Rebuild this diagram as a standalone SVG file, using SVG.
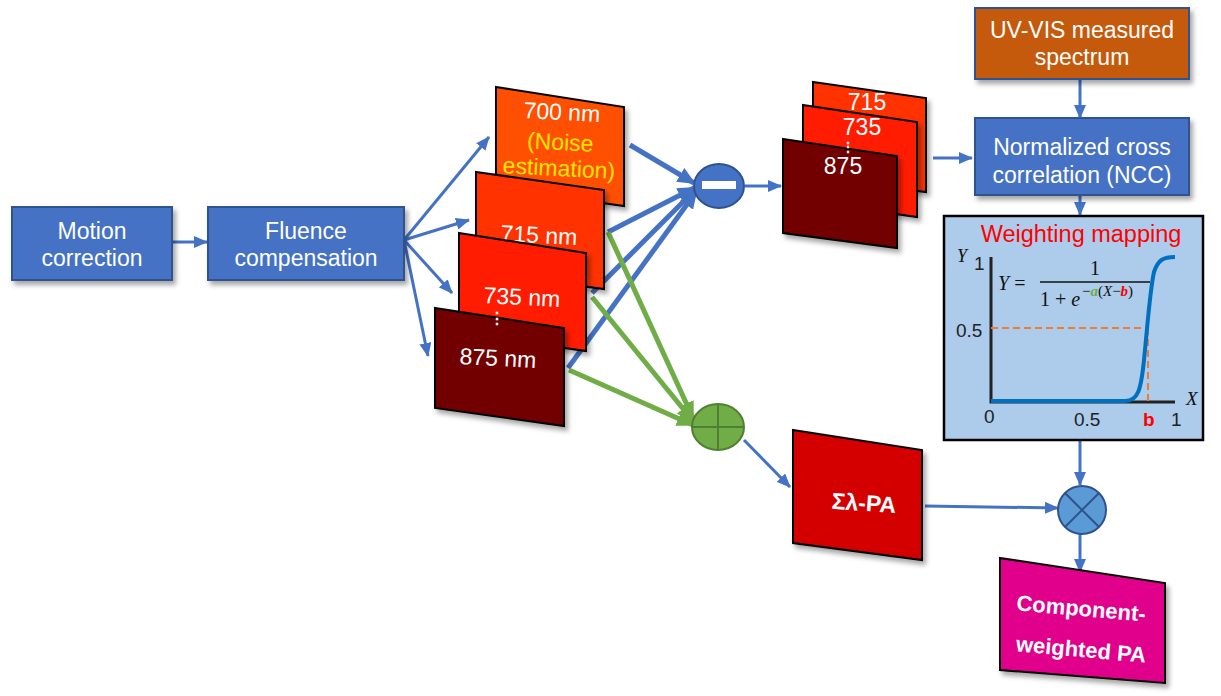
<svg xmlns="http://www.w3.org/2000/svg" width="1221" height="696" viewBox="0 0 1221 696">
<defs>
<style>
.box{fill:#4472C4;stroke:#2F528F;stroke-width:2;}
.bt{font-family:"Liberation Sans",Arial,sans-serif;font-size:23px;fill:#fff;text-anchor:middle;}
.fr{stroke:#000;stroke-width:2;}
.ft{font-family:"Liberation Sans",Arial,sans-serif;font-size:23px;fill:#fff;text-anchor:middle;}
.fb{font-family:"Liberation Sans",Arial,sans-serif;font-weight:bold;fill:#fff;text-anchor:middle;}
.c{fill:none;stroke:#4472C4;stroke-width:3;}
.ct{fill:none;stroke:#4472C4;stroke-width:5;}
.cg{fill:none;stroke:#70AD47;stroke-width:5;}
.ax{font-family:"Liberation Sans",Arial,sans-serif;font-size:19px;fill:#222;}
.it{font-family:"Liberation Serif","Times New Roman",serif;font-style:italic;fill:#111;}
</style>
<filter id="sh" x="-10%" y="-10%" width="130%" height="130%">
<feDropShadow dx="3" dy="4" stdDeviation="2.5" flood-color="#000" flood-opacity="0.35"/>
</filter>
<marker id="ab" markerWidth="14" markerHeight="12" refX="13" refY="6" orient="auto" markerUnits="userSpaceOnUse"><path d="M0,0 L14,6 L0,12 z" fill="#4472C4"/></marker>
<marker id="abT" markerWidth="18" markerHeight="16" refX="16" refY="8" orient="auto" markerUnits="userSpaceOnUse"><path d="M0,0 L18,8 L0,16 z" fill="#4472C4"/></marker>
<marker id="agT" markerWidth="18" markerHeight="16" refX="16" refY="8" orient="auto" markerUnits="userSpaceOnUse"><path d="M0,0 L18,8 L0,16 z" fill="#70AD47"/></marker>
</defs>
<rect width="1221" height="696" fill="#fff"/>

<g id="connectors">
<path class="c" d="M172,242 L207,242" marker-end="url(#ab)"/>
<path class="c" d="M404,240 L489,137" marker-end="url(#ab)"/>
<path class="c" d="M404,240 L469,220" marker-end="url(#ab)"/>
<path class="c" d="M404,240 L452,293" marker-end="url(#ab)"/>
<path class="c" d="M404,240 L428,356" marker-end="url(#ab)"/>
<path class="ct" d="M630,145 L694,183" marker-end="url(#abT)"/>
<path class="ct" d="M608,232 L694,188" marker-end="url(#abT)"/>
<path class="ct" d="M592,293 L695,190" marker-end="url(#abT)"/>
<path class="ct" d="M568,368 L696,192" marker-end="url(#abT)"/>
<path class="cg" d="M608,232 L693,418" marker-end="url(#agT)"/>
<path class="cg" d="M592,297 L693,421" marker-end="url(#agT)"/>
<path class="cg" d="M569,370 L693,425" marker-end="url(#agT)"/>
<path class="c" d="M745,186 L781,186" marker-end="url(#ab)"/>
<path class="c" d="M933,158 L972,158" marker-end="url(#ab)"/>
<path class="c" d="M1080,79 L1080,118" marker-end="url(#ab)"/>
<path class="c" d="M1080,195 L1080,215" marker-end="url(#ab)"/>
<path class="c" d="M1080,440 L1080,485" marker-end="url(#ab)"/>
<path class="c" d="M744,440 L790,487" marker-end="url(#ab)"/>
<path class="c" d="M925,506 L1058,508" marker-end="url(#ab)"/>
<path class="c" d="M1080,534 L1080,572" marker-end="url(#ab)"/>
</g>

<g id="motion">
<rect class="box" x="12" y="207" width="160" height="73" filter="url(#sh)"/>
<text class="bt" x="92" y="239">Motion</text>
<text class="bt" x="92" y="266">correction</text>
</g>
<g id="fluence">
<rect class="box" x="208" y="207" width="196" height="73" filter="url(#sh)"/>
<text class="bt" x="306" y="239">Fluence</text>
<text class="bt" x="306" y="266">compensation</text>
</g>

<g id="f700">
<polygon class="fr" points="496,87 624,107 624,206 496,188" fill="#FF5000" filter="url(#sh)"/>
<g transform="rotate(3 560 148)">
<text class="ft" x="560" y="120">700 nm</text>
<text class="ft" x="560" y="150" style="fill:#FFE600">(Noise</text>
<text class="ft" x="560" y="176" style="fill:#FFE600">estimation)</text>
</g>
</g>
<g id="f715">
<polygon class="fr" points="476,172 604,190 604,289 476,272" fill="#FF3300" filter="url(#sh)"/>
<text class="ft" x="539" y="243" transform="rotate(3 538 236)">715 nm</text>
</g>
<g id="f735">
<polygon class="fr" points="459,233 586,253 586,351 459,333" fill="#FF1A00" filter="url(#sh)"/>
<text class="ft" x="522" y="305" transform="rotate(3 522 298)">735 nm</text>
</g>
<g id="f875">
<polygon class="fr" points="435,308 564,328 564,426 435,408" fill="#730000" filter="url(#sh)"/>
<text class="ft" x="497" y="324" style="font-size:16px;font-weight:bold">⋮</text>
<text class="ft" x="498" y="366" transform="rotate(3 498 358)">875 nm</text>
</g>

<g id="minus">
<ellipse cx="719" cy="186" rx="25" ry="22" fill="#4472C4" stroke="#2F528F" stroke-width="2"/>
<rect x="702" y="181" width="34" height="8" fill="#fff"/>
</g>

<g id="r715">
<polygon class="fr" points="813,82 926,98 926,192 813,178" fill="#FF3300" filter="url(#sh)"/>
<text class="ft" x="867" y="110" style="font-size:23px">715</text>
</g>
<g id="r735">
<polygon class="fr" points="803,105 917,122 917,217 803,201" fill="#FF1A00" filter="url(#sh)"/>
<text class="ft" x="862" y="135" style="font-size:23px">735</text>
</g>
<g id="r875">
<polygon class="fr" points="783,139 897,156 897,248 783,233" fill="#730000" filter="url(#sh)"/>
<text class="ft" x="848" y="152" style="font-size:14px;font-weight:bold">⋮</text>
<text class="ft" x="843" y="174" style="font-size:23px">875</text>
</g>

<g id="uvvis">
<rect x="975" y="8" width="214" height="71" fill="#C55A11" stroke="#2F528F" stroke-width="2" filter="url(#sh)"/>
<text class="bt" x="1082" y="38">UV-VIS measured</text>
<text class="bt" x="1082" y="65">spectrum</text>
</g>
<g id="ncc">
<rect class="box" x="975" y="118" width="214" height="77" filter="url(#sh)"/>
<text class="bt" x="1082" y="155">Normalized cross</text>
<text class="bt" x="1082" y="183">correlation (NCC)</text>
</g>

<g id="weighting">
<rect x="944" y="216" width="259" height="224" fill="#ADCBEA" stroke="#000" stroke-width="2.5"/>
<text x="1081" y="242" style="font-family:'Liberation Sans',Arial,sans-serif;font-size:23.5px;fill:#FF0000;text-anchor:middle">Weighting mapping</text>
<path d="M991,257 L991,402 L1175,402" fill="none" stroke="#222" stroke-width="3"/>
<path d="M991,328 L1148,328 M1148,328 L1148,402" fill="none" stroke="#ED7D31" stroke-width="2" stroke-dasharray="7,4"/>
<path d="M991,401 L1125,401 C1138,401 1141,390 1144,360 C1148,320 1150,290 1154,272 C1158,260 1163,257 1175,257" fill="none" stroke="#0070C0" stroke-width="4"/>
<text class="it" x="957" y="262" style="font-size:18px">Y</text>
<text class="ax" x="974" y="270">1</text>
<text class="ax" x="956" y="337">0.5</text>
<text class="ax" x="984" y="423">0</text>
<text class="ax" x="1074" y="426">0.5</text>
<text class="ax" x="1143" y="426" style="fill:#FF0000;font-weight:bold">b</text>
<text class="ax" x="1171" y="426">1</text>
<text class="it" x="1186" y="405" style="font-size:19px">X</text>
<text class="it" x="998" y="290" style="font-size:20px">Y <tspan style="font-style:normal">=</tspan></text>
<text x="1095" y="275" style="font-family:'Liberation Serif',serif;font-size:20px;fill:#111;text-anchor:middle">1</text>
<path d="M1040,282 L1150,282" stroke="#111" stroke-width="1.3"/>
<text x="1040" y="306" style="font-family:'Liberation Serif',serif;font-size:20px;fill:#111">1 + <tspan font-style="italic">e</tspan></text>
<text x="1082" y="296" style="font-family:'Liberation Serif',serif;font-size:15px;fill:#111">−<tspan style="fill:#70AD47;font-weight:bold;font-style:italic">a</tspan>(<tspan font-style="italic">X</tspan>−<tspan style="fill:#FF0000;font-weight:bold;font-style:italic">b</tspan>)</text>
</g>

<g id="plus">
<ellipse cx="718" cy="427" rx="26" ry="23" fill="#70AD47" stroke="#507E32" stroke-width="2"/>
<path d="M692,427 L744,427 M718,404 L718,450" stroke="#507E32" stroke-width="2"/>
</g>

<g id="sumpa">
<polygon class="fr" points="793,430 922,450 922,560 793,543" fill="#D40000" filter="url(#sh)"/>
<text class="fb" x="864" y="511" style="font-size:23px" transform="rotate(4 864 503)">Σλ-PA</text>
</g>

<g id="mult">
<circle cx="1082" cy="510" r="24" fill="#5B9BD5" stroke="#2F528F" stroke-width="2"/>
<path d="M1065,493 L1099,527 M1099,493 L1065,527" stroke="#2F528F" stroke-width="2"/>
</g>

<g id="comp">
<polygon class="fr" points="1000,558 1165,583 1165,683 1000,670" fill="#E0008C" filter="url(#sh)"/>
<text class="fb" x="1081" y="616" style="font-size:22px" transform="rotate(5 1081 610)">Component-</text>
<text class="fb" x="1081" y="657" style="font-size:22px" transform="rotate(5 1081 650)">weighted PA</text>
</g>
</svg>
